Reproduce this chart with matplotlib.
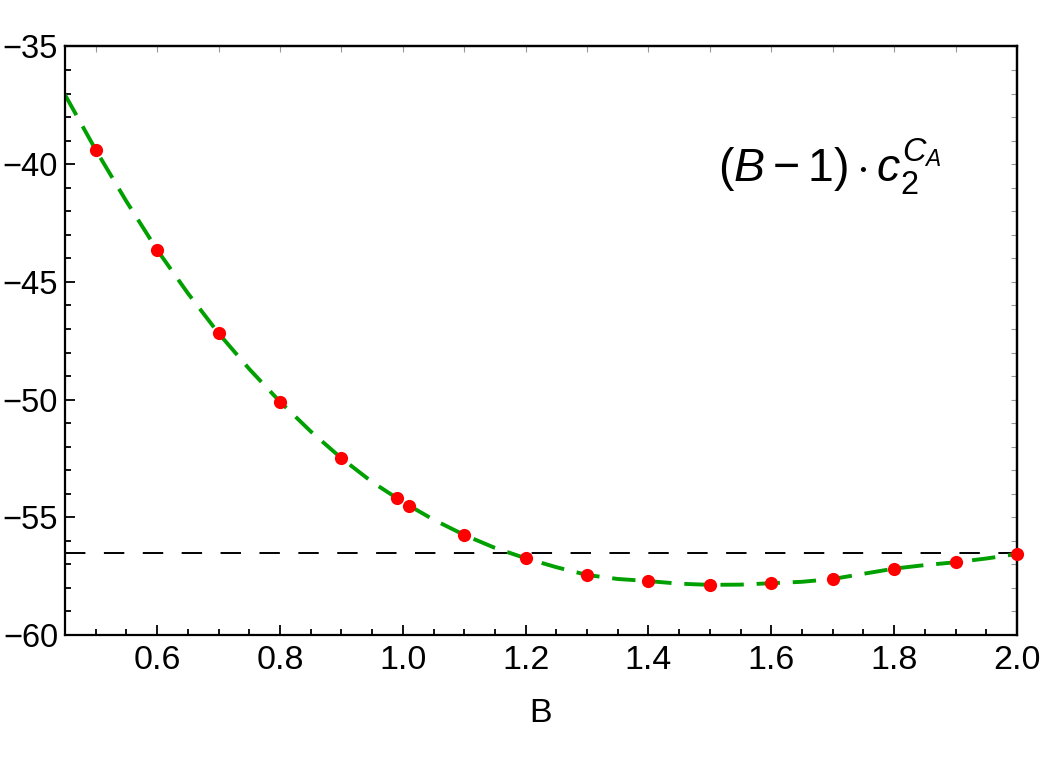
import matplotlib
matplotlib.use("Agg")
import matplotlib.pyplot as plt
from matplotlib.ticker import MultipleLocator, NullFormatter

plt.rcParams['font.family'] = ['Liberation Sans', 'DejaVu Sans']
plt.rcParams['mathtext.fontset'] = 'custom'
plt.rcParams['mathtext.rm'] = 'Liberation Sans'
plt.rcParams['mathtext.it'] = 'Liberation Sans:italic'
plt.rcParams['mathtext.bf'] = 'Liberation Sans:bold'

# data points (red dots)
B_points = [0.5, 0.6, 0.7, 0.8, 0.9, 0.99, 1.01, 1.1, 1.2, 1.3, 1.4, 1.5, 1.6, 1.7, 1.8, 1.9, 2.0]
c_points = [-39.39, -43.64, -47.18, -50.09, -52.49, -54.17, -54.52, -55.75, -56.74, -57.45,
            -57.71, -57.88, -57.81, -57.62, -57.18, -56.91, -56.56]

# fitted curve (green dashed)
B_curve = [0.45, 0.5, 0.55, 0.6, 0.65, 0.7, 0.75, 0.8, 0.85, 0.9, 0.95, 1.0, 1.05, 1.1, 1.15,
           1.2, 1.25, 1.3, 1.35, 1.4, 1.45, 1.5, 1.55, 1.6, 1.65, 1.7, 1.75, 1.8, 1.85, 1.9, 1.95, 2.0]
c_curve = [-37.05, -39.39, -41.58, -43.64, -45.48, -47.18, -48.70, -50.09, -51.35, -52.49, -53.50,
           -54.35, -55.10, -55.75, -56.30, -56.74, -57.12, -57.45, -57.62, -57.71, -57.82, -57.87,
           -57.86, -57.80, -57.74, -57.62, -57.40, -57.18, -57.03, -56.91, -56.75, -56.56]

h_line = -56.53

xticks = [0.6, 0.8, 1.0, 1.2, 1.4, 1.6, 1.8, 2.0]
yticks = [-60, -55, -50, -45, -40, -35]

fig = plt.figure(figsize=(10.42, 7.61), dpi=100)
ax = fig.add_axes([65/1042, 1-635/761, (1017-65)/1042, (635-46.5)/761])

ax.axhline(h_line, color='black', lw=1.4, dashes=(10.5, 9.5), zorder=1)
ax.plot(B_curve, c_curve, color='#00A000', lw=2.8, dashes=(6, 3.3), zorder=2)
ax.plot(B_points, c_points, 'o', color='#FF0000', ms=9.5, mec='none', zorder=3, clip_on=False)

ax.set_xlim(0.45, 2.0)
ax.set_ylim(-60, -35)
ax.set_xticks(xticks)
ax.set_yticks(yticks)
ax.set_xticklabels([f"{v:.1f}" for v in xticks])
ax.set_yticklabels([f"\u2212{abs(v)}" for v in yticks])
ax.xaxis.set_minor_locator(MultipleLocator(0.05))
ax.yaxis.set_minor_locator(MultipleLocator(1))
ax.tick_params(which='both', direction='in', width=1.3, colors='black')
ax.tick_params(axis='x', labelsize=24.5)
ax.tick_params(axis='y', labelsize=23.5)
ax.tick_params(which='major', length=7)
ax.tick_params(axis='x', which='major', pad=7)
ax.tick_params(axis='y', which='major', pad=5)
ax.tick_params(which='minor', length=4)
for s in ax.spines.values():
    s.set_linewidth(1.6)

ax.set_xlabel('B', fontsize=24.5, labelpad=16)

# faint ticks on top and right
top = ax.secondary_xaxis('top')
top.set_xticks([0.5, 0.6, 0.7, 0.8, 0.9, 1.0, 1.1, 1.2, 1.3, 1.4, 1.5, 1.6, 1.7, 1.8, 1.9, 2.0])
top.xaxis.set_major_formatter(NullFormatter())
top.tick_params(direction='in', length=4, width=0.8, color='#999999')
right = ax.secondary_yaxis('right')
right.set_yticks(list(range(-60, -34)))
right.yaxis.set_major_formatter(NullFormatter())
right.tick_params(direction='in', length=4, width=0.8, color='#999999')
top.spines['top'].set_linewidth(1.6)
right.spines['right'].set_linewidth(1.6)

ax.text(0.686, 0.768, r'$(B-1)\cdot c_2^{C_A}$', transform=ax.transAxes,
        fontsize=33.5, ha='left', va='baseline')

fig.savefig('out.png', dpi=100)
